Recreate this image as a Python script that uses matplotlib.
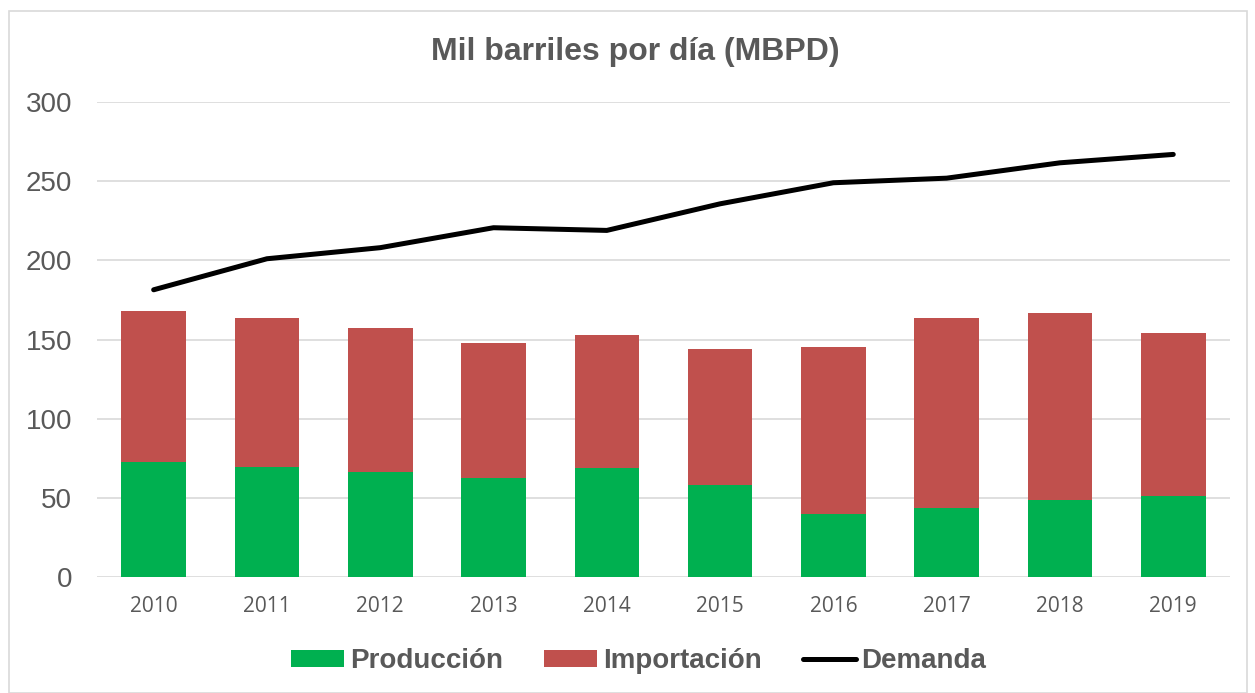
import matplotlib.pyplot as plt
import numpy as np

years = ['2010', '2011', '2012', '2013', '2014',
         '2015', '2016', '2017', '2018', '2019']
produccion = [72.6, 69.4, 66.5, 62.7, 69.0, 57.9, 40.0, 43.4, 48.9, 51.1]
total = [167.7, 163.3, 157.0, 147.7, 152.6, 143.8, 145.4, 163.3, 166.9, 154.3]
importacion = [t - p for t, p in zip(total, produccion)]
demanda = [181.4, 201.0, 208.0, 220.6, 218.9, 235.7, 249.0, 251.9, 261.6, 266.9]

gray = '#595959'
green = '#00B050'
red = '#C0504D'

fig = plt.figure(figsize=(12.55, 6.93), dpi=100)
ax = fig.add_axes([0.0773, 0.1674, 0.9027, 0.6854])

x = np.arange(len(years))
b1 = ax.bar(x, produccion, width=0.57, color=green, label='Producción',
            zorder=2)
b2 = ax.bar(x, importacion, width=0.57, bottom=produccion, color=red,
            label='Importación', zorder=2)
ln, = ax.plot(x, demanda, color='black', lw=3.6, solid_capstyle='round',
              solid_joinstyle='round', label='Demanda', zorder=3)

ax.set_xlim(-0.5, len(years) - 0.5)
ax.set_ylim(0, 300)
ax.set_yticks(range(0, 301, 50))
ax.set_xticks(x)
ax.set_xticklabels(years, fontfamily='Open Sans', fontsize=15, color=gray)
for lbl in ax.get_yticklabels():
    lbl.set_fontfamily('Liberation Sans')
    lbl.set_fontsize(20)
    lbl.set_color(gray)
ax.tick_params(axis='y', length=0, pad=18)
ax.tick_params(axis='x', length=0, pad=14)
ax.grid(axis='y', color='#d9d9d9', lw=1.2, zorder=0)
for s in ax.spines.values():
    s.set_visible(False)

fig.text(0.506, 0.925, 'Mil barriles por día (MBPD)', ha='center',
         va='center', fontfamily='Liberation Sans', fontweight='bold',
         fontsize=23, color=gray)

leg = fig.legend([b1, b2, ln], ['Producción', 'Importación', 'Demanda'],
                 loc='center', bbox_to_anchor=(0.509, 0.046), ncol=3,
                 frameon=False, handlelength=1.9, handleheight=0.55,
                 handletextpad=0.2, columnspacing=1.5,
                 prop={'family': 'Liberation Sans', 'weight': 'bold',
                       'size': 20})
for t in leg.get_texts():
    t.set_color(gray)

# outer chart border
fig.add_artist(plt.Rectangle((9 / 1255, 0.0), 1238 / 1255, 1 - 11 / 693,
                             transform=fig.transFigure, fill=False,
                             edgecolor='#d9d9d9', lw=1.2))

fig.savefig('out.png', dpi=100)
plt.close()
